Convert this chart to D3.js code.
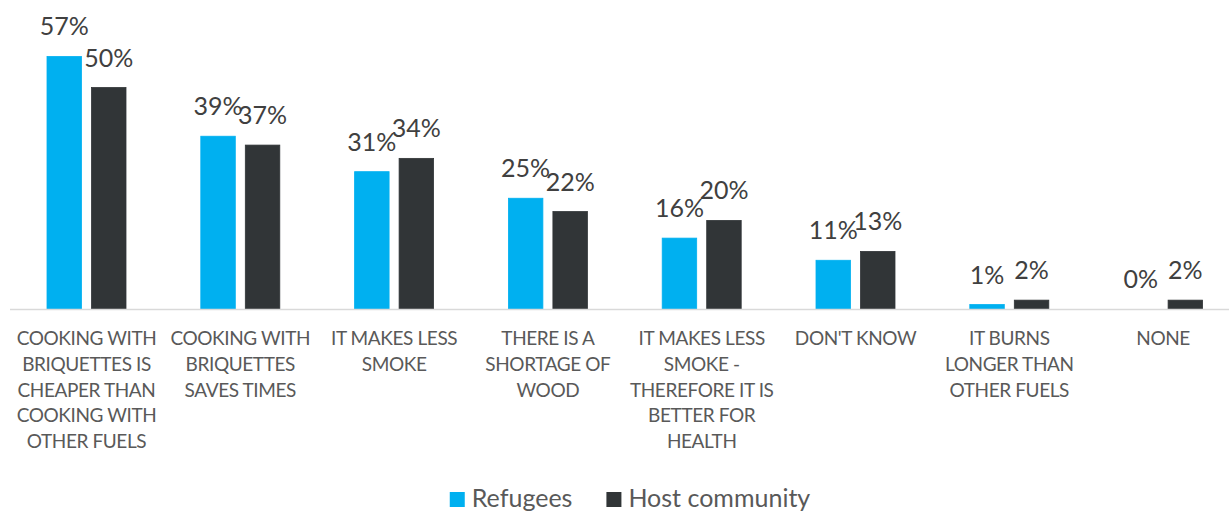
<!DOCTYPE html>
<html>
<head>
<meta charset="utf-8">
<script src="https://cdn.jsdelivr.net/npm/d3@7"></script>
<style>
  html, body { margin: 0; padding: 0; background: #fff; }
  svg { display: block; }
  text { font-family: Lato, "Open Sans", sans-serif; }
</style>
</head>
<body>
<svg id="chart" width="1229" height="512"></svg>
<script>
// Reasons given for using briquettes, share of respondents (%)
const categories = [
  "COOKING WITH\nBRIQUETTES IS\nCHEAPER THAN\nCOOKING WITH\nOTHER FUELS",
  "COOKING WITH\nBRIQUETTES\nSAVES TIMES",
  "IT MAKES LESS\nSMOKE",
  "THERE IS A\nSHORTAGE OF\nWOOD",
  "IT MAKES LESS\nSMOKE -\nTHEREFORE IT IS\nBETTER FOR\nHEALTH",
  "DON'T KNOW",
  "IT BURNS\nLONGER THAN\nOTHER FUELS",
  "NONE"
];
const seriesNames = ["Refugees", "Host community"];
const refugees = [57, 39, 31, 25, 16, 11, 1, 0];
const hostCommunity = [50, 37, 34, 22, 20, 13, 2, 2];
const seriesColors = ["#00B0F0", "#313537"];

const width = 1229, height = 512;
const baseY = 309;

const svg = d3.select("#chart");

const x0 = d3.scaleBand()
  .domain(categories)
  .range([9.6, 1240])
  .paddingInner(0)
  .paddingOuter(0);

const groupW = 79;
const x1 = d3.scaleBand()
  .domain(seriesNames)
  .range([(x0.bandwidth() - groupW) / 2, (x0.bandwidth() + groupW) / 2])
  .paddingInner(0.225)
  .paddingOuter(0);

const y = d3.scaleLinear()
  .domain([0, 60])
  .range([baseY, baseY - 60 * 4.43]);

const rows = categories.map((c, i) => ({
  cat: c,
  values: [
    { key: seriesNames[0], value: refugees[i] },
    { key: seriesNames[1], value: hostCommunity[i] }
  ]
}));

// bars
const groups = svg.append("g").selectAll("g")
  .data(rows)
  .join("g")
  .attr("transform", d => `translate(${x0(d.cat)},0)`);

groups.selectAll("rect")
  .data(d => d.values)
  .join("rect")
  .attr("x", d => x1(d.key))
  .attr("y", d => y(d.value))
  .attr("width", x1.bandwidth())
  .attr("height", d => y(0) - y(d.value))
  .attr("fill", (d, i) => seriesColors[i])
  .attr("stroke", (d, i) => seriesColors[i])
  .attr("stroke-width", 0.8);

// value labels
groups.selectAll("text.val")
  .data(d => d.values)
  .join("text")
  .attr("class", "val")
  .attr("x", d => x1(d.key) + x1.bandwidth() / 2)
  .attr("y", d => y(d.value) - 21)
  .attr("text-anchor", "middle")
  .attr("font-size", 25)
  .attr("fill", "#404040")
  .text(d => d.value + "%");

// category axis
const axis = svg.append("g")
  .attr("transform", `translate(0,${baseY})`)
  .call(d3.axisBottom(x0).tickSize(0).tickSizeOuter(0).tickFormat(""));
axis.select(".domain")
  .attr("d", `M10,0.5H${width}`)
  .attr("stroke", "#D9D9D9")
  .attr("stroke-width", 1.3);

const catLabels = svg.append("g").selectAll("text")
  .data(categories)
  .join("text")
  .attr("x", d => x0(d) + x0.bandwidth() / 2)
  .attr("y", 345)
  .attr("text-anchor", "middle")
  .attr("font-size", 19)
  .attr("letter-spacing", -0.4)
  .attr("fill", "#595959");
catLabels.selectAll("tspan")
  .data(d => d.split("\n"))
  .join("tspan")
  .attr("x", function() { return this.parentNode.getAttribute("x"); })
  .attr("dy", (d, i) => i === 0 ? 0 : 25.8)
  .text(d => d);

// legend
const legend = svg.append("g");
const items = legend.selectAll("g")
  .data(seriesNames)
  .join("g");
items.append("rect")
  .attr("y", 492)
  .attr("width", 15)
  .attr("height", 15)
  .attr("fill", (d, i) => seriesColors[i]);
items.append("text")
  .attr("x", 22)
  .attr("y", 507)
  .attr("font-size", 25)
  .attr("fill", "#595959")
  .text(d => d);

let cursor = 0;
const offsets = [];
items.each(function(d, i) {
  offsets.push(cursor);
  const w = d3.select(this).select("text").node().getComputedTextLength();
  cursor += 22 + w + (i < seriesNames.length - 1 ? 34 : 0);
});
const startX = 630 - cursor / 2;
items.attr("transform", (d, i) => `translate(${startX + offsets[i]},0)`);
</script>
</body>
</html>
